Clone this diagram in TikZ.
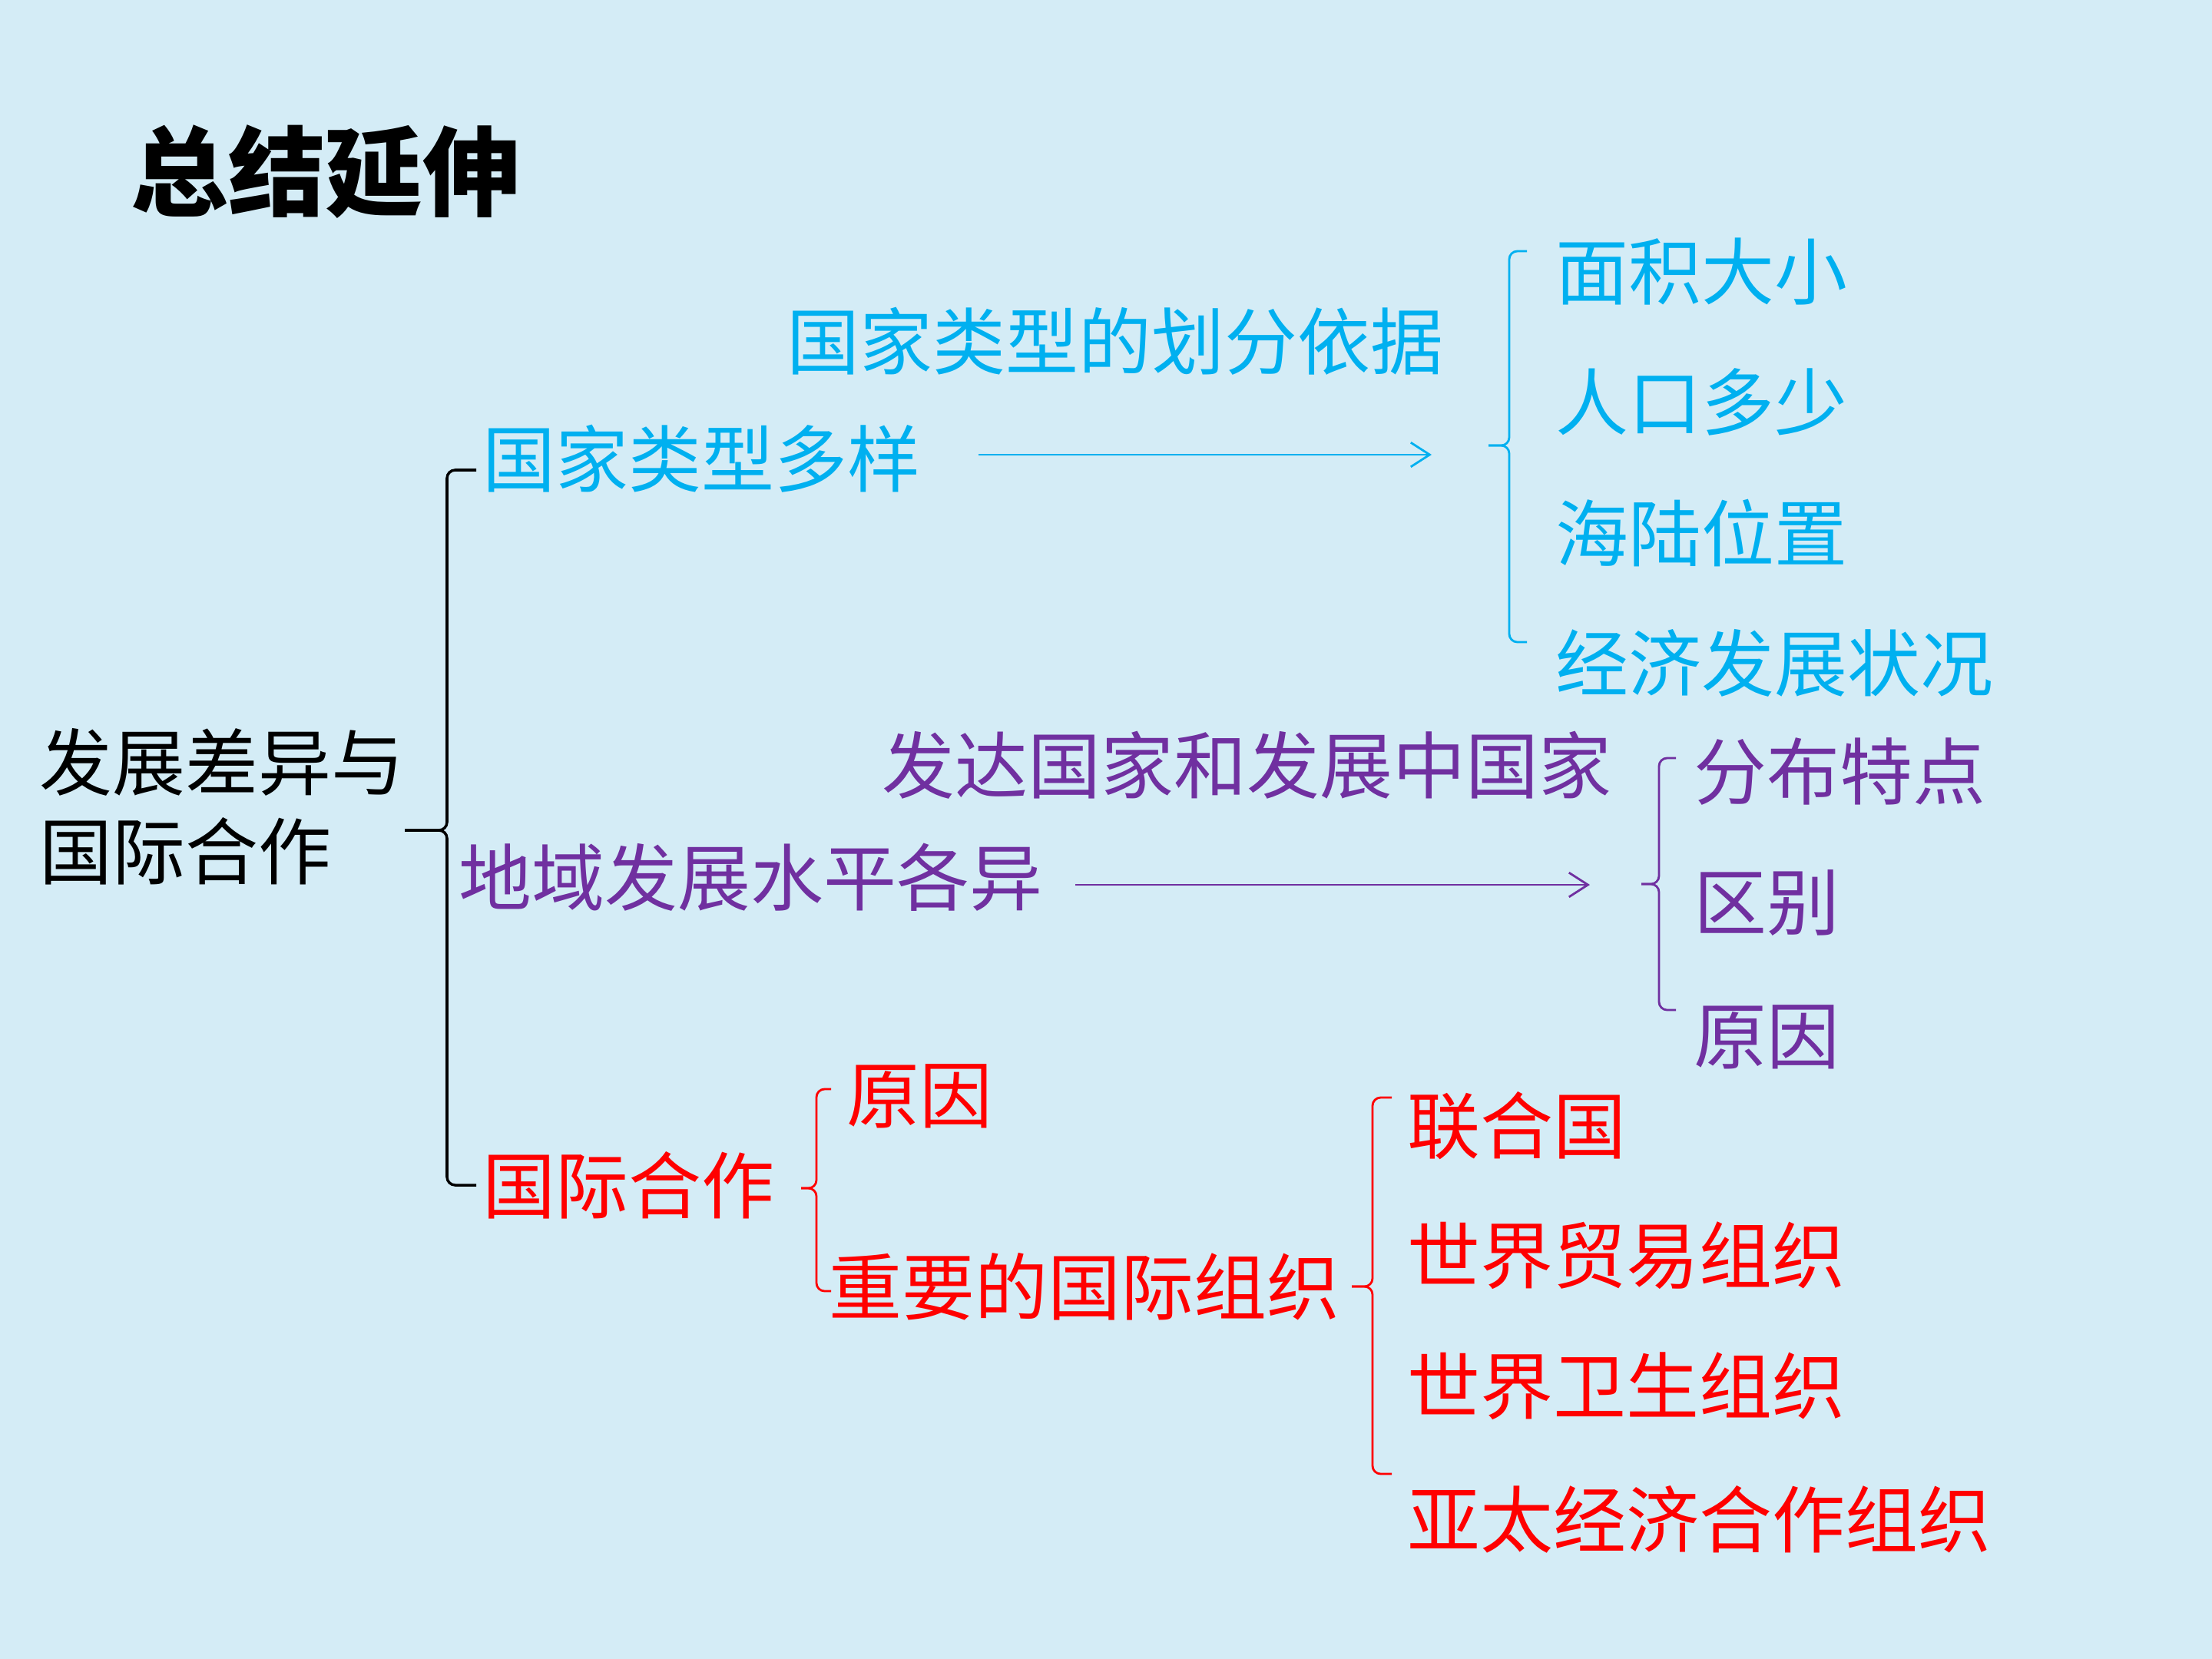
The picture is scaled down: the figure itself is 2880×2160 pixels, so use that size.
\documentclass[tikz,border=0pt]{standalone}
\usepackage{fontspec}
\setmainfont{Noto Sans CJK SC}
\usetikzlibrary{arrows.meta,calc}
\definecolor{bg}{RGB}{212,236,246}
\definecolor{cblue}{RGB}{0,176,240}
\definecolor{cpurple}{RGB}{112,48,160}
\definecolor{cred}{RGB}{255,0,0}
% #1 style, #2 end x, #3 vertical x, #4 tip x, #5 top y, #6 mid y, #7 bottom y
\newcommand\cbrace[7]{%
  \draw[#1,rounded corners=3pt] (#2,#5) -- (#3,#5) -- (#3,#6) -- (#4,#6);
  \draw[#1,rounded corners=3pt] (#2,#7) -- (#3,#7) -- (#3,#6) -- (#4,#6);}
\begin{document}
\begin{tikzpicture}[x=0.01cm,y=-0.01cm,
  txt/.style={anchor=west,inner sep=0pt,font=\fontsize{27}{33}\selectfont},
  arr/.style={line width=0.8pt,-{Straight Barb[length=7pt,width=9pt,line width=0.8pt]}}]
\fill[bg] (0,0) rectangle (2880,2160);
\useasboundingbox (0,0) rectangle (2880,2160);

\node[anchor=west,inner sep=0pt,font=\fontsize{36}{40}\selectfont\bfseries] (title) at (170,224) {总结延伸};

\node[txt,align=left] (root) at (51,1050) {发展差异与\\国际合作};

% blue branch
\node[txt,text=cblue] (t1) at (628,597) {国家类型多样};
\node[txt,text=cblue] (t1a) at (1024,444) {国家类型的划分依据};
\node[txt,text=cblue] (b1) at (2025,354) {面积大小};
\node[txt,text=cblue] (b2) at (2025,523) {人口多少};
\node[txt,text=cblue] (b3) at (2025,694) {海陆位置};
\node[txt,text=cblue] (b4) at (2025,863) {经济发展状况};

% purple branch
\node[txt,text=cpurple] (t2) at (597,1142) {地域发展水平各异};
\node[txt,text=cpurple] (t2a) at (1148,996) {发达国家和发展中国家};
\node[txt,text=cpurple] (p1) at (2205,1005) {分布特点};
\node[txt,text=cpurple] (p2) at (2205,1175) {区别};
\node[txt,text=cpurple] (p3) at (2205,1350) {原因};

% red branch
\node[txt,text=cred] (t3) at (628,1543) {国际合作};
\node[txt,text=cred] (r1) at (1102,1427) {原因};
\node[txt,text=cred] (r2) at (1079,1675) {重要的国际组织};
\node[txt,text=cred] (o1) at (1832,1466) {联合国};
\node[txt,text=cred] (o2) at (1832,1635) {世界贸易组织};
\node[txt,text=cred] (o3) at (1832,1805) {世界卫生组织};
\node[txt,text=cred] (o4) at (1832,1978) {亚太经济合作组织};

% braces
\cbrace{black,line width=1pt}{620}{582}{527}{612}{1081}{1543}
\cbrace{cblue,line width=0.8pt}{1988}{1965}{1938}{327}{580}{836}
\cbrace{cpurple,line width=0.8pt}{2182}{2160}{2137}{987}{1151}{1315}
\cbrace{cred,line width=0.8pt}{1082}{1063}{1043}{1418}{1547}{1681}
\cbrace{cred,line width=0.8pt}{1812}{1787}{1760}{1429}{1675}{1919}

% arrows
\draw[cblue,arr] ($(t1.east)+(75,-5)$) -- ($(t1.east -| b1.west)+(-161,-5)$);
\draw[cpurple,arr] ($(t2.east)+(42,10)$) -- ($(t2.east -| p1.west)+(-135,10)$);
\end{tikzpicture}
\end{document}
